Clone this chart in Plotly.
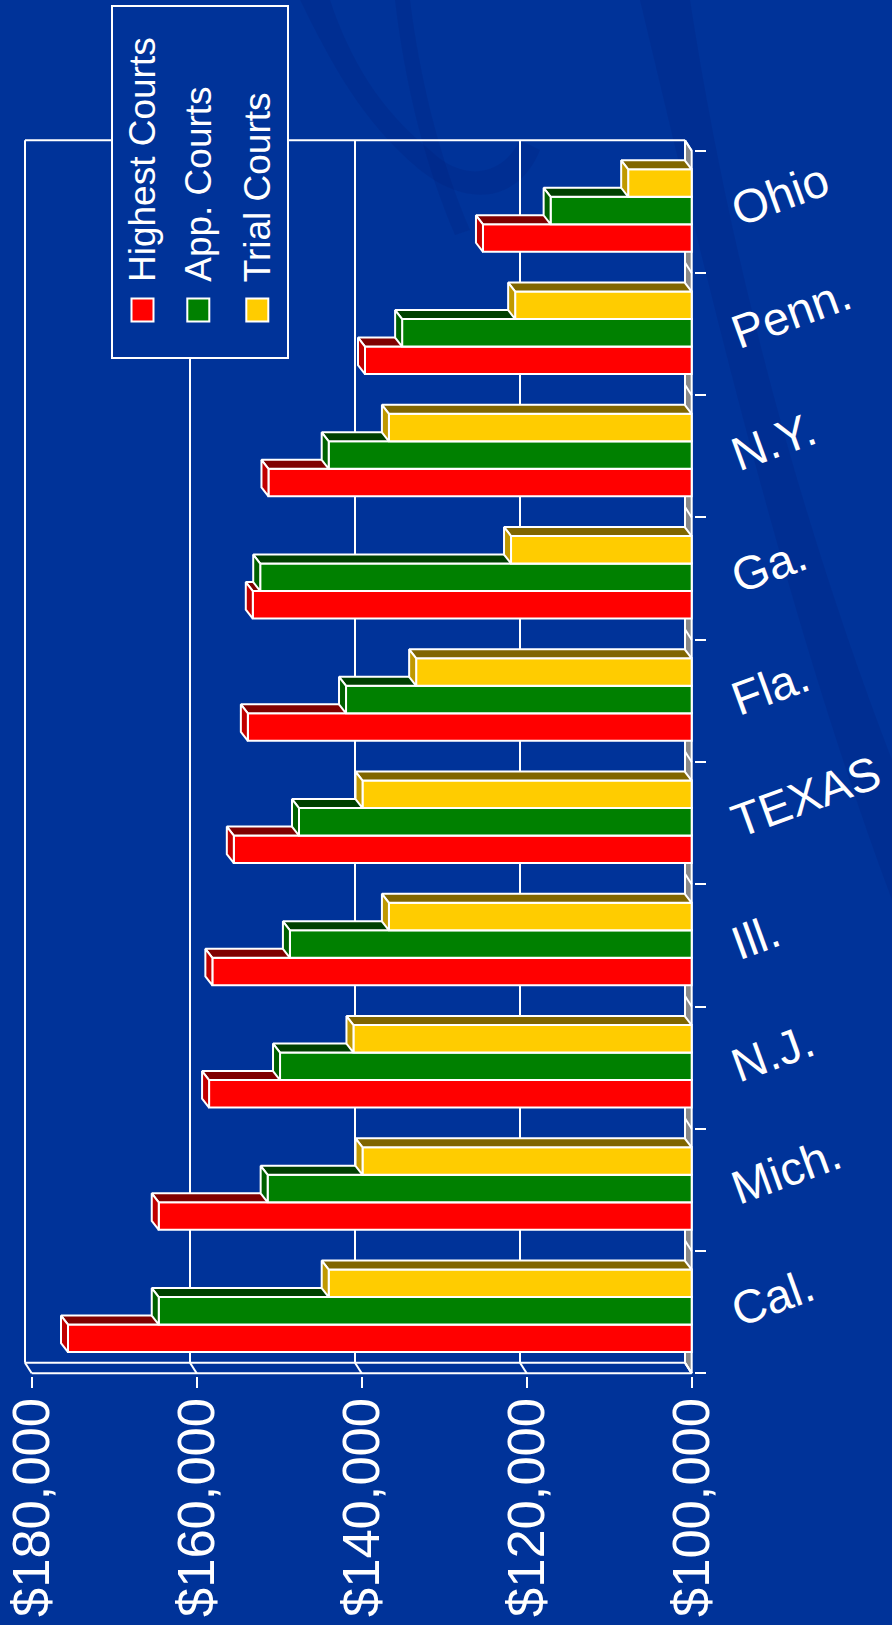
import plotly.graph_objects as go

# ---------------- data ----------------
categories = ["Ohio", "Penn.", "N.Y.", "Ga.", "Fla.", "TEXAS", "Ill.", "N.J.", "Mich.", "Cal."]
highest_courts = [125300, 139600, 151300, 153200, 153800, 155500, 158100, 158500, 164600, 175600]
app_courts = [117100, 135100, 144000, 152300, 141900, 147600, 148700, 149900, 151400, 164600]
trial_courts = [107700, 121400, 136700, 121900, 133400, 139900, 136700, 141000, 139900, 144000]
series_names = ["Highest Courts", "App. Courts", "Trial Courts"]
value_ticks = [100000, 120000, 140000, 160000, 180000]
value_tick_labels = ["$100,000", "$120,000", "$140,000", "$160,000", "$180,000"]
AXIS_MIN, AXIS_MAX = 100000, 180000

# ---------------- styling / geometry ----------------
BG = "#003399"
FONT = "Liberation Sans, Arial, sans-serif"
front_colors = ["#FF0000", "#008000", "#FFCC00"]
top_colors = ["#800000", "#004000", "#806600"]
end_colors = ["#C00000", "#006000", "#C09900"]

W, H = 892, 1625
ML, MR, MT, MB = 20, 198, 136, 249
PW, PH = W - ML - MR, H - MT - MB
# front-plane pixel calibration
FX0, FX1 = 31.7, 691.7      # px of AXIS_MAX, AXIS_MIN
FY0, FY1 = 150.7, 1373.3    # px of top / bottom of the category band
PPD = (FX1 - FX0) / (AXIS_MAX - AXIS_MIN)   # px per dollar
PPC = (FY1 - FY0) / len(categories)          # px per category
x_range = [AXIS_MAX + (FX0 - ML) / PPD, AXIS_MIN - ((W - MR) - FX1) / PPD]
n = len(categories)
y_range = [n - 0.5 + ((H - MB) - FY1) / PPC, -0.5 - (FY0 - MT) / PPC]

def ddx(px):  # leftward pixel offset -> dollars
    return px / PPD

def ddy(px):  # upward pixel offset -> category units
    return -px / PPC

WDX, WDY = ddx(6.7), ddy(10.5)   # wall depth
BDX, BDY = ddx(7.0), ddy(9.0)    # bar depth
BW = 27.5 / PPC                   # bar thickness (category units)
GROUP_SHIFT = -1.3 / PPC
offsets = [BW + GROUP_SHIFT, GROUP_SHIFT, -BW + GROUP_SHIFT]   # highest, app, trial

def paper_x(px):
    return (px - ML) / PW

def paper_y(py):
    return 1 - (py - MT) / PH

fig = go.Figure()

# ---------------- background swooshes (decoration) ----------------
deco = [
    "M 300,0 C 330,60 360,120 420,170 C 470,210 520,200 540,150 L 520,140 C 500,180 460,180 430,150 C 380,110 350,60 330,0 Z",
    "M 640,0 C 700,250 780,600 892,900 L 892,760 C 800,520 730,260 690,0 Z",
    "M 410,0 C 420,80 440,160 470,230 L 455,235 C 425,165 405,85 395,0 Z",
]
deco_shapes = []
for p in deco:
    toks = p.replace(",", " ").split()
    out, is_x = [], True
    for t in toks:
        if t.isalpha():
            out.append(t)
            is_x = True
        else:
            v = float(t)
            out.append(f"{paper_x(v):.5f}" if is_x else f"{paper_y(v):.5f}")
            is_x = not is_x
    deco_shapes.append(dict(type="path", path=" ".join(out), xref="paper", yref="paper",
                            line=dict(width=0), fillcolor="rgba(0,25,110,0.16)", layer="below"))

# ---------------- walls / floor (base axes) ----------------
top = -0.5
bot = n - 0.5
fig.add_trace(go.Scatter(
    x=[AXIS_MIN + WDX, AXIS_MIN, AXIS_MIN, AXIS_MIN + WDX, AXIS_MIN + WDX],
    y=[top + WDY, top, bot, bot + WDY, top + WDY],
    mode="lines", fill="toself", fillcolor="#888888",
    line=dict(color="white", width=2), hoverinfo="skip", showlegend=False))

lx, ly = [], []
def seg(x0, y0, x1, y1):
    lx.extend([x0, x1, None])
    ly.extend([y0, y1, None])

seg(AXIS_MAX + WDX, top + WDY, AXIS_MIN + WDX, top + WDY)
seg(AXIS_MAX + WDX, top + WDY, AXIS_MAX + WDX, bot + WDY)
seg(AXIS_MAX + WDX, bot + WDY, AXIS_MIN + WDX, bot + WDY)
seg(AXIS_MAX, bot, AXIS_MIN, bot)
for v in value_ticks:
    if AXIS_MIN < v < AXIS_MAX:
        seg(v + WDX, top + WDY, v + WDX, bot + WDY)
    seg(v + WDX, bot + WDY, v, bot)
for b in range(n + 1):
    seg(AXIS_MIN + WDX, b - 0.5 + WDY, AXIS_MIN, b - 0.5)
fig.add_trace(go.Scatter(x=lx, y=ly, mode="lines", line=dict(color="white", width=2),
                         hoverinfo="skip", showlegend=False))

# ---------------- 3D bars, one overlay layer per series ----------------
all_series = [highest_courts, app_courts, trial_courts]
for k, vals in enumerate(all_series):
    xa, ya = f"x{k + 2}", f"y{k + 2}"
    ys = [i + offsets[k] for i in range(n)]
    fig.add_trace(go.Bar(
        orientation="h", y=ys, x=[v - AXIS_MIN for v in vals], base=AXIS_MIN,
        width=BW, marker=dict(color=front_colors[k], line=dict(color="white", width=2)),
        name=series_names[k], showlegend=False, xaxis=xa, yaxis=ya, hoverinfo="skip"))
    tx, ty, ex, ey = [], [], [], []
    for yc, v in zip(ys, vals):
        yt, yb = yc - BW / 2, yc + BW / 2
        tx += [AXIS_MIN, v, v + BDX, AXIS_MIN + BDX, AXIS_MIN, None]
        ty += [yt, yt, yt + BDY, yt + BDY, yt, None]
        ex += [v, v + BDX, v + BDX, v, v, None]
        ey += [yt, yt + BDY, yb + BDY, yb, yt, None]
    fig.add_trace(go.Scatter(x=tx, y=ty, mode="lines", fill="toself", fillcolor=top_colors[k],
                             line=dict(color="white", width=2), showlegend=False,
                             hoverinfo="skip", xaxis=xa, yaxis=ya))
    fig.add_trace(go.Scatter(x=ex, y=ey, mode="lines", fill="toself", fillcolor=end_colors[k],
                             line=dict(color="white", width=2), showlegend=False,
                             hoverinfo="skip", xaxis=xa, yaxis=ya))

# ---------------- axes ----------------
tickfont = dict(family=FONT, size=52.5, color="white")
fig.update_layout(
    width=W, height=H,
    margin=dict(l=ML, r=MR, t=MT, b=MB, autoexpand=False),
    paper_bgcolor=BG, plot_bgcolor="rgba(0,0,0,0)",
    showlegend=False, barmode="overlay",
    xaxis=dict(range=x_range, showgrid=False, zeroline=False, showline=False,
               tickvals=value_ticks, ticktext=value_tick_labels, tickangle=-90,
               ticks="outside", ticklen=11, tickwidth=2, tickcolor="white",
               ticklabelstandoff=-11, tickfont=tickfont, fixedrange=True),
    yaxis=dict(range=y_range, side="right", showgrid=False, zeroline=False, showline=False,
               tickvals=[b - 0.5 for b in range(n + 1)], ticktext=[""] * (n + 1),
               ticks="outside", ticklen=11, tickwidth=2, tickcolor="white", fixedrange=True),
    xaxis2=dict(range=x_range, overlaying="x", visible=False),
    xaxis3=dict(range=x_range, overlaying="x", visible=False),
    xaxis4=dict(range=x_range, overlaying="x", visible=False),
    yaxis2=dict(range=y_range, overlaying="y", side="right", anchor="x2",
                showgrid=False, zeroline=False, showline=False,
                tickvals=list(range(n)), ticktext=categories, ticks="",
                tickangle=-20, ticklabelstandoff=36,
                tickfont=dict(family=FONT, size=47, color="white")),
    yaxis3=dict(range=y_range, overlaying="y", visible=False),
    yaxis4=dict(range=y_range, overlaying="y", visible=False),
)

# ---------------- legend (drawn) ----------------
shapes = deco_shapes + [dict(type="rect", xref="paper", yref="paper",
               x0=paper_x(112), x1=paper_x(288), y0=paper_y(358), y1=paper_y(6),
               fillcolor=BG, line=dict(color="white", width=2), layer="above")]
legend_x = [142.5, 198.3, 257.3]
annotations = []
for k, name in enumerate(series_names):
    cx = legend_x[k]
    shapes.append(dict(type="rect", xref="paper", yref="paper",
                       x0=paper_x(cx - 11), x1=paper_x(cx + 11),
                       y0=paper_y(321.5), y1=paper_y(298.5),
                       fillcolor=front_colors[k], line=dict(color="white", width=2),
                       layer="above"))
    annotations.append(dict(text=name, xref="paper", yref="paper",
                            x=paper_x(cx), y=paper_y(284), xanchor="center", yanchor="bottom",
                            textangle=-90, showarrow=False,
                            font=dict(family=FONT, size=37, color="white")))
fig.update_layout(shapes=shapes, annotations=annotations)

fig.write_html("out.html", config={"displayModeBar": False},
               post_script="document.body.style.margin='0';document.body.style.background='#003399';")
